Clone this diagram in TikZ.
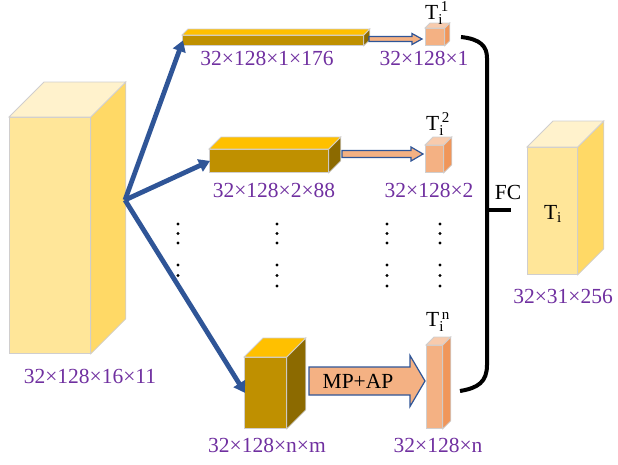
\documentclass[tikz,border=0pt]{standalone}
\usepackage{fontspec}
\setmainfont{Liberation Serif}
\usetikzlibrary{calc,arrows.meta}
\definecolor{lab}{HTML}{7030A0}
\definecolor{arrblue}{HTML}{2F5597}
\definecolor{yfront}{HTML}{FFE699}
\definecolor{ytop}{HTML}{FFF2CC}
\definecolor{yside}{HTML}{FFD966}
\definecolor{gfront}{HTML}{BF9000}
\definecolor{gtop}{HTML}{FFC000}
\definecolor{gside}{HTML}{8C6A00}
\definecolor{ofront}{HTML}{F4B183}
\definecolor{otop}{HTML}{F8CBAD}
\definecolor{oside}{HTML}{F0965A}
\definecolor{edge}{HTML}{D0CECE}
\newcommand{\mycube}[8]{% name, x1,y1,x2,y2, depth, front, side
  \node[draw=edge, line width=0.8pt, fill=#7, inner sep=0pt, anchor=north west,
        minimum width={(#4-#2)*1pt}, minimum height={(#5-#3)*1pt}] (#1) at (#2,#3) {};
  \fill[#8, draw=edge, line width=0.8pt] (#1.north east) -- ++(#6,-#6) -- ($(#1.south east)+(#6,-#6)$) -- (#1.south east) -- cycle;
}
\newcommand{\mytop}[3]{% name, depth, top colour
  \fill[#3, draw=edge, line width=0.8pt] (#1.north west) -- ++(#2,-#2) -- ($(#1.north east)+(#2,-#2)$) -- (#1.north east) -- cycle;
}
\newcommand{\blockarrow}[6]{% x1, x2, yc, shaft half, head half, head length
  \draw[arrblue, fill=ofront, line width=1.2pt, line join=miter]
    (#1,#3-#4) -- (#2-#6,#3-#4) -- (#2-#6,#3-#5) -- (#2,#3) -- (#2-#6,#3+#5) -- (#2-#6,#3+#4) -- (#1,#3+#4) -- cycle;
}
\tikzset{
  lbl/.style={text=lab, font=\fontsize{21.5}{24}\selectfont, inner sep=0pt},
  txt/.style={text=black, font=\fontsize{21.5}{24}\selectfont, inner sep=0pt},
  barrow/.style={arrblue, line width=4.8pt, -{Triangle[length=11pt,width=13pt]}},
  brace/.style={black, line width=4pt},
}
\begin{document}
\begin{tikzpicture}[x=1pt,y=-1pt]
\useasboundingbox (0,0) rectangle (618,464);
% big input cube
\mycube{big}{9}{117}{90}{353}{35}{yfront}{yside}
\mytop{big}{35}{ytop}
\node[lbl] (lbig) at (90,376) {32×128×16×11};
% branch 1
\mycube{b1}{182}{35}{363}{45}{6}{gfront}{gside}
\mytop{b1}{6}{gtop}
\node[lbl] (lb1) at (267,58) {32×128×1×176};
\mycube{t1}{425}{28}{444}{45}{5}{ofront}{oside}
\mytop{t1}{5}{otop}
\node[lbl] (lt1) at (424,58) {32×128×1};
\node[txt] (T1) at (437,13) {T$_{\mathrm{i}}^{\,\mathrm{1}}$};
\blockarrow{369}{422}{39}{2.5}{5.5}{10}
% branch 2
\mycube{b2}{209}{149}{328}{172}{12}{gfront}{gside}
\mytop{b2}{12}{gtop}
\node[lbl] (lb2) at (274,190) {32×128×2×88};
\mycube{t2}{425}{145}{443}{172}{8}{ofront}{oside}
\mytop{t2}{8}{otop}
\node[lbl] (lt2) at (429,190) {32×128×2};
\node[txt] (T2) at (438,124) {T$_{\mathrm{i}}^{\,\mathrm{2}}$};
\blockarrow{342}{423}{154}{3.5}{7}{12}
% branch n
\mycube{bn}{244}{357}{286}{428}{19}{gfront}{gside}
\mytop{bn}{19}{gtop}
\node[lbl] (lbn) at (267,445) {32×128×n×m};
\mycube{tn}{426}{345}{442}{428}{8}{ofront}{oside}
\mytop{tn}{8}{otop}
\node[lbl] (ltn) at (438,445) {32×128×n};
\node[txt] (Tn) at (438,322) {T$_{\mathrm{i}}^{\,\mathrm{n}}$};
\blockarrow{309}{425}{381}{14}{25.5}{15}
\node[txt] (mp) at (358,381) {MP+AP};
% dots
\foreach \x in {178,277,387,440}{
  \foreach \y in {224,233.5,243,265,275.5,286}{
    \fill (\x,\y) circle (1.7);
  }
}
% arrows from input
\coordinate (src) at (125,200);
\draw[barrow] (src) -- ($(b1.west)+(1,0)$);
\draw[barrow] (src) -- ($(b2.west)+(1,0)$);
\draw[barrow] (src) -- ($(bn.west)+(1,0)$);
% brace and FC
\coordinate (bt) at (461,37);
\coordinate (bb) at (460,391);
\coordinate (fc) at (511,210);
\draw[brace] (bt) .. controls (480,39) and (487,46) .. (487,58) -- (487,365) .. controls (487,382) and (478,388) .. (bb);
\draw[brace] (487,210) -- (fc);
\node[txt] (FC) at (508,192) {FC};
% output cube
\mycube{out}{527}{147}{577}{274}{26}{yfront}{yside}
\mytop{out}{26}{ytop}
\node[txt] (Ti) at (553,214) {T$_{\mathrm{i}}$};
\node[lbl] (lout) at (563,296) {32×31×256};
\end{tikzpicture}
\end{document}
